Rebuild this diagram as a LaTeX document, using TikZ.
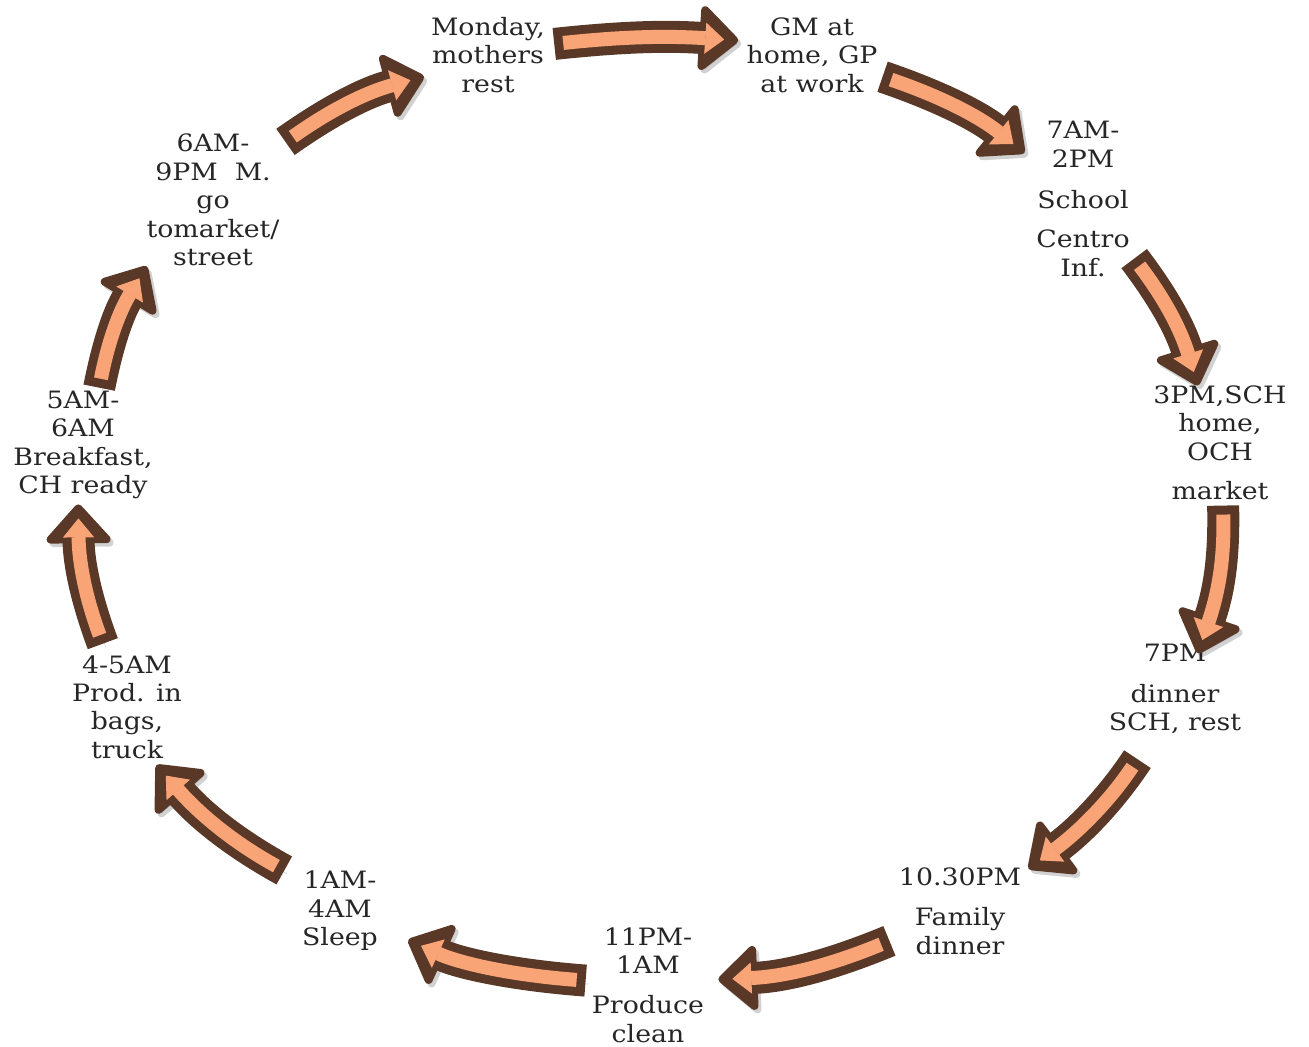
\documentclass[tikz,border=0pt]{standalone}
\usepackage{fontspec}
\setmainfont{DejaVu Serif}[FakeStretch=1.12]
\usetikzlibrary{arrows.meta}

\definecolor{arrowbrown}{HTML}{5A3827}
\definecolor{arroworange}{HTML}{F9A477}
\definecolor{textgray}{HTML}{262626}

\tikzset{
  stage/.style={align=center, inner sep=0pt, text=textgray,
    font=\fontsize{13.6}{16.2}\selectfont},
  arrowout/.style={draw=arrowbrown, line width=0.64cm,
    -{Triangle[length=0.82cm, width=1.44cm, line width=0.16cm, round]},
    preaction={draw=black, opacity=0.18,
      transform canvas={xshift=0.06cm, yshift=-0.07cm}}},
  arrowin/.style={draw=arroworange, line width=0.28cm,
    -{Triangle[length=0.38cm, width=0.62cm, line width=0.02cm]}}
}

\begin{document}
\begin{tikzpicture}[x=0.02cm, y=-0.02cm]
  \useasboundingbox (0,0) rectangle (1309,1047);

  % stages of the day
  \node[stage] (mon)  at (488,55)   {Monday,\\mothers\\rest};
  \node[stage] (gm)   at (812,55)   {GM at\\home, GP\\at work};
  \node[stage] (sch)  at (1083,199) {7AM-\\2PM\\[0.26cm]School\\[0.22cm]Centro\\Inf.};
  \node[stage] (och)  at (1220,443) {3PM,SCH\\home,\\OCH\\[0.22cm]market};
  \node[stage] (din)  at (1175,689) {7PM\\[0.24cm]dinner\\SCH, rest};
  \node[stage] (fam)  at (960,911)  {10.30PM\\[0.24cm]Family\\dinner};
  \node[stage] (prod) at (648,985)  {11PM-\\1AM\\[0.24cm]Produce\\clean};
  \node[stage] (slp)  at (340,911)  {1AM-\\4AM\\Sleep};
  \node[stage] (bag)  at (127,707)  {4-5AM\\Prod. in\\bags,\\truck};
  \node[stage] (brk)  at (83,445)   {5AM-\\6AM\\Breakfast,\\CH ready};
  \node[stage] (mkt)  at (213,200)  {6AM-\\9PM~ M.\\go\\tomarket/\\street};

  % block arrows round the cycle
  \draw[arrowout, shorten <=0.18cm, shorten >=0.16cm] (mon.10) to[bend left=5] (gm.168);
  \draw[arrowin,  shorten <=0.36cm, shorten >=0.44cm] (mon.10) to[bend left=5] (gm.168);
  \draw[arrowout, shorten <=0.10cm, shorten >=0.30cm] (gm.-17) to[bend left=10] (sch.142);
  \draw[arrowin,  shorten <=0.28cm, shorten >=0.58cm] (gm.-17) to[bend left=10] (sch.142);
  \draw[arrowout, shorten <=0.14cm, shorten >=0cm] (sch.-49) to[bend left=10] (och.111);
  \draw[arrowin,  shorten <=0.32cm, shorten >=0.28cm] (sch.-49) to[bend left=10] (och.111);
  \draw[arrowout, shorten <=0.10cm, shorten >=-0.20cm] (och.-87) to[bend left=10] (din.60);
  \draw[arrowin,  shorten <=0.28cm, shorten >=0.08cm] (och.-87) to[bend left=10] (din.60);
  \draw[arrowout, shorten <=0.60cm, shorten >=0.18cm] (din.-115) to[bend left=10] (fam.31);
  \draw[arrowin,  shorten <=0.78cm, shorten >=0.46cm] (din.-115) to[bend left=10] (fam.31);
  \draw[arrowout, shorten <=0.20cm, shorten >=0.28cm] (fam.-157) to[bend left=10] (prod.5);
  \draw[arrowin,  shorten <=0.38cm, shorten >=0.56cm] (fam.-157) to[bend left=10] (prod.5);
  \draw[arrowout, shorten <=0.12cm, shorten >=0.66cm] (prod.176) to[bend left=10] (slp.-22);
  \draw[arrowin,  shorten <=0.30cm, shorten >=0.94cm] (prod.176) to[bend left=10] (slp.-22);
  \draw[arrowout, shorten <=0.40cm, shorten >=0.16cm] (slp.141) to[bend left=10] (bag.-65);
  \draw[arrowin,  shorten <=0.58cm, shorten >=0.44cm] (slp.141) to[bend left=10] (bag.-65);
  \draw[arrowout, shorten <=0.24cm, shorten >=0.10cm] (bag.111) to[bend left=10] (brk.-95);
  \draw[arrowin,  shorten <=0.42cm, shorten >=0.38cm] (bag.111) to[bend left=10] (brk.-95);
  \draw[arrowout, shorten <=0.06cm, shorten >=0cm] (brk.74) to[bend left=10] (mkt.-135);
  \draw[arrowin,  shorten <=0.24cm, shorten >=0.28cm] (brk.74) to[bend left=10] (mkt.-135);
  \draw[arrowout, shorten <=0.14cm, shorten >=0.14cm] (mkt.39) to[bend left=10] (mon.-161);
  \draw[arrowin,  shorten <=0.32cm, shorten >=0.42cm] (mkt.39) to[bend left=10] (mon.-161);
\end{tikzpicture}
\end{document}
